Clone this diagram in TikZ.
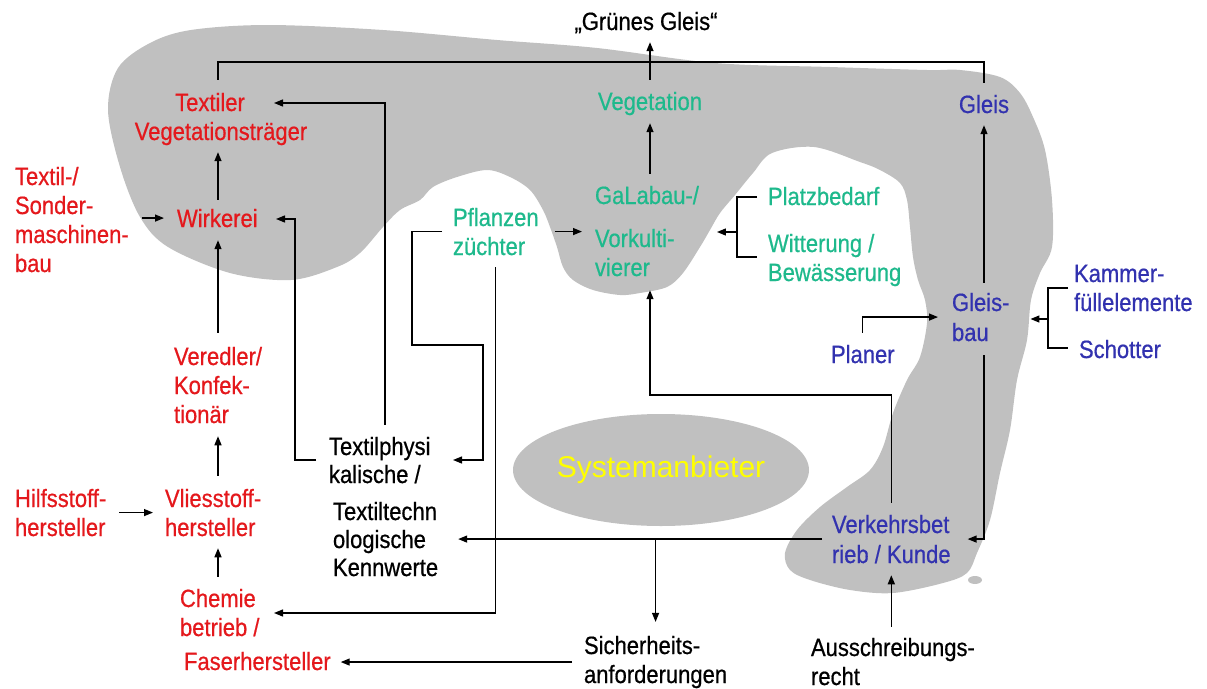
\documentclass[tikz,border=0pt]{standalone}
\usepackage{fontspec}
\setmainfont{Liberation Sans}[FakeStretch=0.88,FakeBold=0.6]
\newfontfamily\sysfont{Liberation Sans}
\usetikzlibrary{arrows.meta,shapes.geometric}
\definecolor{txr}{RGB}{228,24,28}
\definecolor{txg}{RGB}{30,185,140}
\definecolor{txb}{RGB}{50,50,175}
\definecolor{blobgray}{RGB}{192,192,192}
\begin{document}
\begin{tikzpicture}[x=1pt,y=-1pt,
  lbl/.style={inner sep=0pt, outer sep=0pt, align=left, anchor=base west, font=\fontsize{25}{29}\selectfont},
  txred/.style={text=txr},
  txgreen/.style={text=txg},
  txblue/.style={text=txb},
  conn/.style={line width=1.3pt, draw=black},
  ar/.style={conn, -{Triangle[length=9pt,width=7pt]}},
]
\useasboundingbox (0,0) rectangle (1207,688);
% gray area
\fill[blobgray] plot[smooth cycle, tension=0.55] coordinates {
(108,110) (118,68) (150,43) (191,30) (268,25) (383,30) (497,40) (597,48) (715,63) (830,67) (927,70) (960,70) (1000,77) (1020,93) (1033,117) (1045,150) (1052,200) (1052,247) (1040,273) (1031,300) (1027,340) (1017,380) (1010,430) (1000,473) (990,520) (977,553) (967,573) (943,583) (893,593) (850,590) (810,580) (790,570) (785,553) (797,530) (820,507) (847,487) (870,470) (883,447) (893,413) (907,380) (920,357) (927,323) (925,300) (918,280) (913,257) (910,227) (907,200) (900,183) (880,170) (860,162) (814,147) (772,153) (753,173) (735,195) (720,213) (710,230) (700,247) (683,273) (667,287) (640,293) (620,295) (593,290) (573,280) (563,267) (557,247) (550,227) (543,210) (530,190) (510,177) (487,170) (457,177) (433,187) (420,200) (400,210) (383,227) (360,253) (337,267) (291,280) (230,273) (168,247) (140,217) (120,167)};
\fill[blobgray] (975,580) ellipse [x radius=7, y radius=4];
\node[ellipse, fill=blobgray, minimum width=296pt, minimum height=112pt, inner sep=0pt, text={rgb,255:red,255;green,255;blue,0}, font=\sysfont\fontsize{30}{30}\selectfont] (sys) at (661,470) {Systemanbieter};

% labels (anchor = baseline of the last line)
\node[lbl, anchor=base] (gg) at (646,30) {„Grünes Gleis“};
\node[lbl, txred, align=center, anchor=base] (tvt) at (221,140) {Textiler\hspace*{22pt}\\Vegetationsträger};
\node[lbl, txred] (wirk) at (177,227) {Wirkerei};
\node[lbl, txred] (tsm) at (15,272) {Textil-/\\Sonder-\\maschinen-\\bau};
\node[lbl, txgreen] (pfl) at (453,255) {Pflanzen\\züchter};
\node[lbl, txgreen, anchor=base] (veg) at (650,110) {Vegetation};
\node[lbl, txgreen] (gal) at (595,276) {GaLabau-/\\[14pt]Vorkulti-\\vierer};
\node[lbl, txgreen] (platz) at (768,281) {Platzbedarf\\[18pt]Witterung /\\Bewässerung};
\node[lbl, txblue, anchor=base] (gleis) at (984,113) {Gleis};
\node[lbl, txblue] (gb) at (952,341) {Gleis-\\[1pt]bau};
\node[lbl, txblue] (kam) at (1074,358) {Kammer-\\füllelemente\\[18pt]\hspace*{5pt}Schotter};
\node[lbl, txblue] (planer) at (831,363) {Planer};
\node[lbl, txred] (ver) at (174,423) {Veredler/\\Konfek-\\tionär};
\node[lbl, txred] (hilf) at (15,536) {Hilfsstoff-\\hersteller};
\node[lbl, txred] (vlies) at (165,536) {Vliesstoff-\\hersteller};
\node[lbl, txred] (chem) at (180,670) {Chemie\\betrieb /\\[5pt]\hspace*{4pt}Faserhersteller};
\node[lbl, font=\fontsize{25}{28}\selectfont] (tp) at (329,576) {Textilphysi\\kalische /\\[9pt]\hspace*{4pt}Textiltechn\\\hspace*{4pt}ologische\\\hspace*{4pt}Kennwerte};
\node[lbl, txblue] (verk) at (832,563) {Verkehrsbet\\[1pt]rieb / Kunde};
\node[lbl] (sich) at (584,683) {Sicherheits-\\anforderungen};
\node[lbl] (aus) at (811,685) {Ausschreibungs-\\recht};

% coordinates
\coordinate (tl) at (218,62);
\coordinate (hv) at (894,395);
\coordinate (kt) at (1068,288);
\coordinate (kb) at (1068,348);
\coordinate (km) at (1048,319);
\coordinate (pt) at (757,197);
\coordinate (pb) at (757,257);
\coordinate (pm) at (737,232);
\coordinate (n1) at (412,345);
\coordinate (n2) at (483,345);
\coordinate (n3) at (453,460);
\coordinate (o1) at (274,613);
\coordinate (p1) at (385,103);
\coordinate (p2) at (274,103);
\coordinate (q1) at (295,460);
\coordinate (q2) at (276,219);

% connectors
\draw[conn] ([yshift=13pt]tvt.north -| tl) -- (tl) -| ([yshift=12pt]gleis.north);
\draw[ar] ([yshift=12pt]veg.north) -- ([yshift=-9pt]gg.south -| veg.north);
\draw[ar] ([yshift=12pt]gal.north -| veg.south) -- ([yshift=-8pt]veg.south);
\draw[ar] ([yshift=10pt]gb.north -| gleis.south) -- ([yshift=-12pt]gleis.south);
\draw[ar] ([yshift=-14pt]gb.south -| gleis.south) |- ([xshift=17pt]verk.east);
\draw[ar] ([xshift=-10pt]verk.west) -- ([xshift=20pt]verk.west -| tp.east);
\draw[ar] (verk.west -| sich.north) -- ([yshift=14pt]sich.north);
\draw[ar] ([yshift=12pt]verk.north) -- (verk.north |- hv) -| ([yshift=-14pt]gal.south -| veg.south);
\draw[ar] ([yshift=11pt]aus.north -| verk.north) -- ([yshift=-12pt]verk.south);
\draw[ar] ([yshift=12pt]planer.north) |- ([xshift=-14pt]gb.west);
\draw[conn] (kt) -- ++(-20,0) |- (kb);
\draw[ar] (km) -- ([xshift=21pt]km -| gb.east);
\draw[conn] (pt) -- ++(-20,0) |- (pb);
\draw[ar] (pm) -- ([xshift=18pt]pm -| gal.east);
\draw[ar] ([xshift=16pt]pfl.east) -- ([xshift=-13pt]pfl.east -| gal.west);
\draw[ar] ([xshift=-11pt]pfl.west) -| (n1) -- (n2) |- (n3);
\draw[ar] ([yshift=-12pt]pfl.south) |- (o1);
\draw[ar] ([yshift=12pt]tp.north -| p1) -- (p1) -- (p2);
\draw[ar] ([xshift=-13pt]tp.west |- q1) -- (q1) |- (q2);
\draw[ar] ([xshift=13pt]wirk.west -| tsm.east) -- ([xshift=-13pt]wirk.west);
\draw[ar] ([yshift=9pt]wirk.north -| tl) -- ([yshift=-7pt]tvt.south -| tl);
\draw[ar] ([yshift=14pt]ver.north -| tl) -- ([yshift=-13pt]wirk.south -| tl);
\draw[ar] ([yshift=13pt]vlies.north -| tl) -- ([yshift=-13pt]ver.south -| tl);
\draw[ar] ([xshift=13pt]vlies.west -| hilf.east) -- ([xshift=-12pt]vlies.west);
\draw[ar] ([yshift=12pt]chem.north -| tl) -- ([yshift=-12pt]vlies.south -| tl);
\draw[ar] ([xshift=-12pt]sich.west) -- ([xshift=10pt]sich.west -| chem.east);
\end{tikzpicture}
\end{document}
